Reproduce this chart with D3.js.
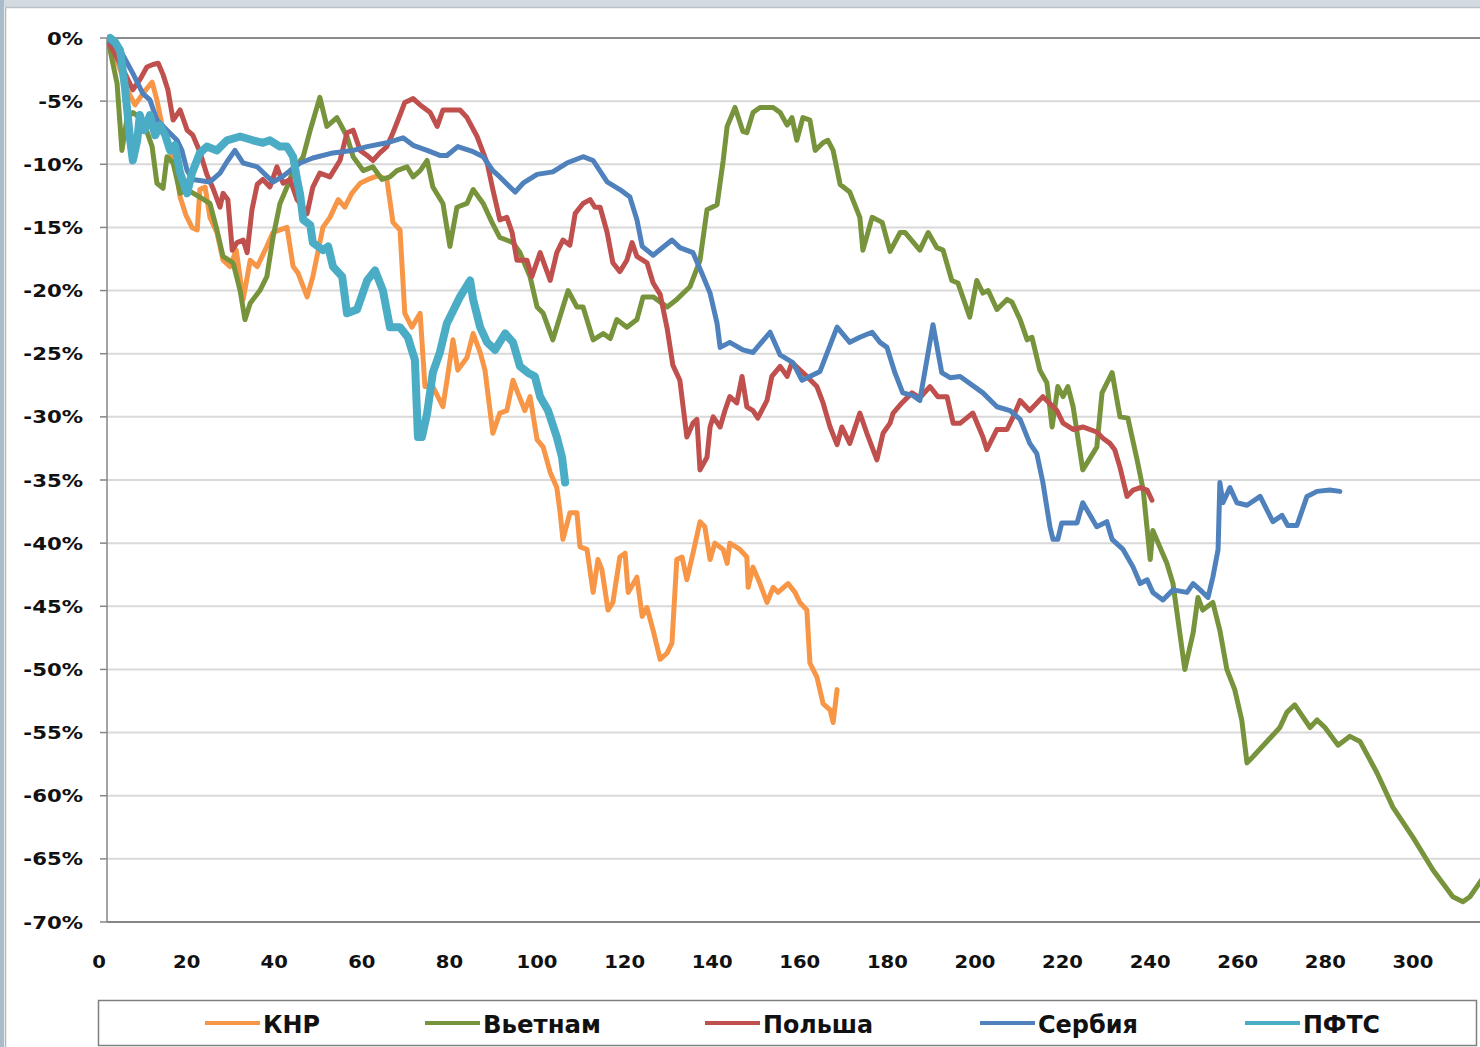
<!DOCTYPE html>
<html><head><meta charset="utf-8">
<script src="https://cdn.jsdelivr.net/npm/d3@7"></script>
<style>body{margin:0;background:#fff}svg{display:block}</style>
</head><body>
<svg id="c" width="1480" height="1047"></svg>
<script>
// ---------- DATA ----------
const seriesNames = ["КНР", "Вьетнам", "Польша", "Сербия", "ПФТС"];
const seriesColors = ["#F79646", "#77933C", "#C0504D", "#4F81BD", "#4BACC6"];
const yTicks = [0, -5, -10, -15, -20, -25, -30, -35, -40, -45, -50, -55, -60, -65, -70];
const xTicks = [0, 20, 40, 60, 80, 100, 120, 140, 160, 180, 200, 220, 240, 260, 280, 300];

// [day, % change]
const knr = [[2.5,0],[3.9,-1.0],[5.5,-2.5],[7.1,-4.1],[8.9,-5.3],[10.5,-4.5],[11.6,-4.0],[12.8,-3.5],[13.9,-4.9],[15.3,-7.3],[16.9,-8.9],[18.3,-10.5],[19.2,-12.6],[20.5,-14.0],[21.9,-15.0],[23.1,-15.2],[23.7,-12.0],[24.9,-11.8],[26.0,-14.2],[27.6,-15.4],[29.0,-17.6],[30.6,-18.1],[32.0,-16.8],[33.6,-20.7],[35.2,-17.6],[36.8,-18.1],[39.0,-16.5],[40.4,-15.4],[42.0,-15.2],[43.6,-15.0],[45.0,-18.1],[46.1,-18.6],[48.2,-20.5],[49.5,-18.9],[51.8,-15.0],[53.4,-14.2],[55.3,-12.8],[56.8,-13.4],[58.4,-12.3],[60.3,-11.5],[62.1,-11.2],[64.4,-10.9],[66.4,-11.2],[67.8,-14.6],[69.4,-15.2],[70.5,-21.8],[72.1,-22.9],[74.0,-21.8],[75.1,-27.6],[76.9,-27.6],[79.2,-29.2],[80.4,-26.5],[81.5,-23.9],[82.6,-26.3],[84.7,-25.3],[86.1,-23.4],[87.7,-24.9],[88.8,-26.3],[90.6,-31.3],[92.2,-29.7],[93.8,-29.5],[95.2,-27.1],[96.3,-28.1],[97.9,-29.5],[99.1,-28.4],[100.7,-31.8],[102.1,-32.4],[103.7,-34.4],[105.2,-35.6],[105.9,-37.4],[106.6,-39.7],[108.2,-37.6],[109.8,-37.6],[110.5,-40.3],[112.1,-40.5],[113.5,-43.9],[114.6,-41.3],[115.5,-42.1],[116.9,-45.3],[118.0,-44.7],[119.6,-41.1],[120.8,-40.8],[121.5,-43.9],[123.5,-42.7],[124.7,-45.8],[125.8,-45.1],[127.2,-46.9],[128.8,-49.2],[130.4,-48.7],[131.5,-47.9],[132.6,-41.3],[133.8,-41.1],[134.9,-42.9],[136.3,-40.8],[137.9,-38.3],[139.0,-38.7],[140.2,-41.3],[141.3,-40.0],[143.2,-40.5],[144.1,-41.6],[144.7,-40.0],[147.0,-40.5],[148.6,-41.1],[148.9,-43.5],[150.0,-41.9],[151.6,-43.2],[153.2,-44.7],[154.6,-43.5],[155.7,-43.9],[158.0,-43.2],[159.6,-43.9],[160.7,-44.7],[162.3,-45.3],[163.0,-49.5],[164.6,-50.6],[166.0,-52.7],[167.6,-53.2],[168.3,-54.2],[169.2,-51.6]];

const vietnam = [[2.5,0],[3.2,-0.95],[4.8,-3.6],[5.9,-8.9],[7.1,-6.3],[8.4,-5.9],[10.7,-6.5],[12.8,-8.6],[13.9,-11.5],[15.3,-11.9],[16.2,-9.4],[17.6,-9.9],[19.2,-12.3],[20.8,-12.0],[23.7,-12.6],[26.0,-13.1],[27.6,-15.2],[29.0,-17.3],[31.3,-17.8],[32.9,-20.0],[34.0,-22.3],[35.2,-21.0],[37.4,-20.0],[39.0,-18.9],[40.4,-15.8],[42.0,-13.1],[43.6,-11.8],[45.0,-10.5],[47.3,-9.4],[48.9,-7.3],[51.1,-4.7],[52.7,-7.0],[55.0,-6.3],[57.3,-7.8],[58.7,-9.4],[61.0,-10.5],[63.2,-10.2],[65.3,-11.2],[67.1,-11.0],[68.7,-10.5],[71.0,-10.2],[72.4,-11.0],[74.0,-10.5],[75.6,-9.7],[76.9,-11.8],[79.2,-13.1],[80.8,-16.5],[82.4,-13.4],[84.7,-13.1],[86.1,-12.0],[88.4,-13.1],[90.4,-14.6],[92.2,-15.8],[95.2,-16.2],[96.8,-17.0],[99.1,-18.9],[100.7,-21.3],[102.1,-21.8],[104.3,-23.9],[106.6,-21.3],[107.8,-20.0],[109.8,-21.3],[111.2,-21.3],[113.5,-23.9],[115.8,-23.4],[117.4,-23.8],[118.9,-22.3],[121.2,-22.9],[123.5,-22.3],[124.9,-20.5],[127.2,-20.5],[130.4,-21.3],[132.6,-20.7],[135.6,-19.7],[137.9,-17.6],[139.5,-13.6],[141.8,-13.2],[143.2,-9.7],[144.1,-7.0],[145.9,-5.5],[147.7,-7.4],[148.6,-7.5],[150.0,-5.9],[151.6,-5.5],[154.6,-5.5],[156.2,-5.9],[157.8,-6.9],[158.9,-6.3],[160.0,-8.1],[161.4,-6.3],[163.0,-6.5],[164.2,-8.9],[166.0,-8.3],[167.1,-8.1],[168.3,-8.9],[169.9,-11.6],[172.1,-12.2],[174.4,-14.2],[175.1,-16.8],[177.2,-14.2],[179.5,-14.6],[181.3,-16.9],[183.6,-15.4],[184.7,-15.4],[188.1,-16.8],[190.0,-15.4],[192.0,-16.6],[193.4,-16.8],[195.4,-19.2],[196.8,-19.4],[199.5,-22.1],[201.1,-19.2],[202.5,-20.2],[203.7,-20.0],[205.7,-21.5],[208.0,-20.7],[209.1,-20.9],[211.0,-22.3],[212.6,-23.9],[213.7,-23.7],[215.5,-26.3],[217.1,-27.3],[218.3,-30.8],[219.6,-27.6],[220.8,-28.4],[221.9,-27.6],[223.1,-29.2],[225.3,-34.2],[228.5,-32.4],[229.7,-28.1],[232.0,-26.5],[233.8,-30.0],[235.6,-30.1],[237.7,-33.4],[239.1,-35.8],[240.7,-41.3],[241.3,-39.0],[242.9,-40.3],[244.5,-41.6],[245.9,-43.2],[248.6,-50.0],[250.5,-47.1],[251.6,-44.3],[252.7,-45.3],[255.0,-44.7],[256.6,-46.9],[258.2,-50.0],[260.0,-51.6],[261.6,-54.0],[262.8,-57.4],[264.2,-56.9],[270.3,-54.6],[271.9,-53.4],[273.7,-52.8],[277.2,-54.6],[278.8,-54.0],[280.6,-54.6],[283.6,-56.0],[286.3,-55.3],[288.6,-55.7],[292.5,-58.2],[296.1,-60.9],[300.7,-63.3],[305.3,-65.9],[309.8,-68.0],[312.1,-68.4],[313.7,-68.0],[315.5,-67.1],[316.5,-66.6]];

const poland = [[2.5,-0.2],[3.9,-1.0],[6.2,-2.5],[8.4,-4.1],[10.0,-3.3],[11.6,-2.3],[13.0,-2.1],[14.2,-2.0],[15.3,-2.9],[16.4,-4.1],[17.6,-6.5],[19.2,-5.7],[20.8,-7.3],[22.1,-7.7],[23.7,-9.0],[25.3,-10.8],[26.7,-11.9],[28.3,-13.4],[29.0,-12.3],[30.1,-12.8],[31.1,-16.8],[32.2,-16.2],[33.6,-16.0],[34.5,-17.0],[35.6,-13.6],[36.8,-11.6],[38.1,-11.2],[39.7,-11.8],[41.3,-10.2],[42.7,-11.5],[44.3,-11.2],[45.9,-12.8],[47.3,-13.4],[48.2,-13.9],[49.5,-11.8],[51.1,-10.7],[53.4,-11.0],[55.7,-9.7],[57.3,-7.5],[58.7,-7.3],[60.3,-8.9],[61.9,-9.3],[63.2,-9.7],[64.8,-9.1],[66.4,-8.6],[67.8,-7.5],[69.4,-6.1],[70.5,-5.1],[72.4,-4.8],[74.0,-5.3],[76.3,-5.9],[77.9,-7.0],[79.2,-5.7],[81.5,-5.7],[83.1,-5.7],[84.7,-6.3],[87.0,-7.8],[89.3,-9.9],[90.6,-12.0],[92.2,-14.4],[93.8,-14.2],[95.0,-15.4],[96.1,-17.6],[98.4,-17.6],[99.5,-18.9],[101.4,-17.0],[103.7,-19.2],[105.2,-17.0],[106.6,-16.0],[108.2,-16.4],[109.4,-13.9],[111.2,-13.1],[112.8,-12.8],[113.9,-13.4],[115.1,-13.4],[116.7,-15.4],[118.0,-17.8],[119.6,-18.5],[121.2,-17.6],[122.4,-16.2],[123.5,-17.3],[125.8,-17.8],[127.2,-19.4],[128.8,-20.3],[130.4,-23.0],[131.7,-25.9],[133.3,-27.1],[134.9,-31.6],[136.3,-30.5],[137.2,-30.2],[137.9,-34.2],[139.5,-33.2],[140.2,-30.8],[140.9,-30.0],[142.5,-30.8],[143.6,-29.5],[144.7,-28.4],[146.3,-28.9],[147.5,-26.8],[148.6,-29.2],[150.0,-29.5],[151.1,-30.1],[153.2,-28.7],[154.3,-26.8],[156.2,-26.0],[157.8,-26.8],[158.9,-25.7],[162.3,-26.8],[164.6,-27.6],[166.0,-28.9],[167.6,-30.8],[169.2,-32.2],[170.3,-30.8],[172.1,-32.1],[174.4,-29.7],[176.0,-31.3],[178.3,-33.4],[179.7,-31.3],[181.3,-30.5],[182.0,-29.7],[184.0,-28.9],[186.3,-28.1],[188.1,-28.5],[190.4,-27.6],[192.2,-28.4],[194.3,-28.4],[195.7,-30.5],[197.3,-30.5],[198.4,-30.2],[200.2,-29.7],[202.5,-31.6],[203.4,-32.6],[205.7,-31.0],[208.0,-31.0],[209.4,-30.0],[211.0,-28.7],[213.2,-29.5],[216.2,-28.4],[219.4,-29.5],[220.8,-30.5],[223.1,-31.0],[225.3,-30.8],[228.5,-31.2],[229.9,-31.7],[231.5,-32.1],[232.6,-32.6],[233.8,-34.0],[235.4,-36.3],[236.8,-35.8],[238.4,-35.6],[240.0,-35.8],[241.1,-36.6]];

const serbia = [[2.5,0],[5.5,-0.95],[8.4,-2.8],[10.7,-4.4],[12.3,-4.9],[13.9,-6.5],[16.2,-7.3],[18.5,-8.1],[19.6,-8.9],[20.8,-10.5],[22.1,-11.2],[26.0,-11.4],[28.3,-10.7],[29.9,-9.8],[31.7,-8.9],[33.6,-9.9],[36.8,-10.2],[40.4,-11.4],[42.5,-11.0],[44.3,-10.5],[46.6,-9.9],[49.5,-9.5],[54.1,-9.1],[58.7,-8.9],[61.9,-8.6],[66.4,-8.3],[70.1,-7.9],[72.4,-8.5],[75.6,-8.9],[78.5,-9.3],[80.1,-9.3],[82.6,-8.6],[86.1,-9.0],[88.4,-9.4],[90.6,-10.5],[92.2,-11.0],[94.5,-11.8],[95.7,-12.2],[97.5,-11.5],[100.7,-10.8],[104.3,-10.6],[107.5,-9.9],[111.2,-9.4],[113.5,-9.7],[116.7,-11.4],[119.6,-12.0],[121.9,-12.6],[123.5,-14.4],[124.7,-16.5],[127.2,-17.2],[131.5,-16.0],[133.3,-16.6],[136.3,-17.0],[138.3,-18.6],[140.2,-20.2],[141.8,-22.6],[142.5,-24.5],[144.7,-24.1],[147.7,-24.7],[150.0,-24.9],[153.9,-23.3],[156.2,-25.1],[159.1,-25.7],[161.2,-27.1],[165.3,-26.4],[169.2,-22.9],[172.1,-24.1],[174.4,-23.7],[177.2,-23.3],[179.0,-24.1],[180.6,-24.5],[182.4,-26.5],[184.2,-28.1],[186.5,-28.3],[188.1,-28.7],[191.1,-22.7],[193.1,-26.5],[195.0,-26.9],[197.3,-26.8],[202.5,-28.1],[205.7,-29.2],[208.7,-29.5],[211.0,-30.2],[213.2,-32.1],[214.8,-32.9],[216.2,-35.2],[217.8,-38.7],[218.5,-39.7],[219.6,-39.7],[220.5,-38.4],[224.0,-38.4],[225.3,-36.8],[228.5,-38.7],[230.8,-38.3],[232.0,-39.7],[234.5,-40.5],[236.8,-41.9],[238.4,-43.2],[240.0,-42.9],[241.3,-43.9],[243.6,-44.5],[245.9,-43.7],[249.1,-43.9],[250.5,-43.2],[252.1,-43.7],[253.9,-44.3],[255.0,-42.7],[256.2,-40.5],[256.6,-35.2],[257.3,-36.8],[258.9,-35.6],[260.5,-36.8],[262.8,-37.0],[265.8,-36.3],[268.7,-38.3],[270.8,-37.8],[272.1,-38.6],[274.2,-38.6],[276.5,-36.3],[278.8,-35.9],[281.7,-35.8],[284.0,-35.9]];

const pfts = [[3.2,0],[4.3,-0.3],[5.5,-1.0],[6.6,-3.9],[7.8,-8.1],[8.4,-9.7],[9.4,-8.1],[10.0,-6.1],[11.0,-7.3],[11.6,-6.9],[12.3,-6.1],[13.5,-7.7],[14.6,-6.9],[15.8,-7.7],[16.9,-8.9],[18.0,-8.5],[19.2,-10.7],[20.8,-12.3],[21.9,-10.7],[23.7,-9.1],[25.3,-8.6],[27.6,-8.9],[29.9,-8.1],[32.9,-7.8],[35.8,-8.1],[38.1,-8.3],[39.7,-8.1],[42.0,-8.6],[43.6,-8.6],[45.0,-9.4],[45.9,-11.2],[46.6,-12.4],[47.3,-14.4],[48.9,-14.8],[49.5,-16.2],[51.8,-16.8],[53.0,-16.5],[54.1,-18.1],[56.2,-18.9],[57.3,-21.8],[59.6,-21.5],[61.9,-19.2],[63.7,-18.4],[65.5,-20.0],[67.1,-22.9],[69.4,-22.9],[71.2,-23.7],[72.8,-25.5],[73.5,-31.6],[74.4,-31.6],[75.6,-29.7],[76.9,-26.5],[78.5,-24.9],[80.1,-22.6],[83.1,-20.5],[85.4,-19.2],[86.1,-20.7],[87.7,-22.9],[89.3,-24.1],[91.1,-24.7],[93.4,-23.4],[95.2,-24.1],[96.8,-26.0],[98.6,-26.5],[100.2,-26.8],[101.4,-28.4],[103.2,-29.5],[105.2,-31.6],[106.4,-33.2],[107.1,-35.2]];

const seriesData = [knr, vietnam, poland, serbia, pfts];
const seriesWidths = [5, 5, 5, 5, 8];

// ---------- CHART ----------
const svg = d3.select("#c");
const W = 1480, H = 1047;
const x = d3.scaleLinear().domain([2.5, 316]).range([107, 1480]);
const y = d3.scaleLinear().domain([-70, 0]).range([922, 38]);

// frame
svg.append("rect").attr("width", W).attr("height", H).attr("fill", "#fff");
svg.append("rect").attr("width", W).attr("height", 7).attr("fill", "#d3dbe1");
svg.append("rect").attr("width", 4).attr("height", H).attr("fill", "#a9bccb");
svg.append("line").attr("x1", 5.5).attr("x2", 5.5).attr("y1", 7).attr("y2", H).attr("stroke", "#b5b5b5").attr("stroke-width", 1.5);
svg.append("line").attr("x1", 5).attr("x2", W).attr("y1", 7.5).attr("y2", 7.5).attr("stroke", "#bcc4ca").attr("stroke-width", 1.5);

const plotL = x(2.5), plotR = 1480;

// gridlines
svg.append("g").selectAll("line").data(yTicks.filter(v => v !== 0 && v !== -70)).join("line")
  .attr("x1", plotL).attr("x2", plotR)
  .attr("y1", d => y(d)).attr("y2", d => y(d))
  .attr("stroke", "#d9d9d9").attr("stroke-width", 2);

// top border (0%)
svg.append("line").attr("x1", plotL).attr("x2", plotR).attr("y1", y(0)).attr("y2", y(0))
  .attr("stroke", "#8c8c8c").attr("stroke-width", 2);

// y tick marks
svg.append("g").selectAll("line").data(yTicks).join("line")
  .attr("x1", plotL - 7).attr("x2", plotL)
  .attr("y1", d => y(d)).attr("y2", d => y(d))
  .attr("stroke", "#868686").attr("stroke-width", 1.5);

// axis lines
svg.append("line").attr("x1", plotL).attr("x2", plotL).attr("y1", y(0)).attr("y2", y(-70))
  .attr("stroke", "#868686").attr("stroke-width", 1.5);
svg.append("line").attr("x1", plotL).attr("x2", plotR).attr("y1", y(-70)).attr("y2", y(-70))
  .attr("stroke", "#868686").attr("stroke-width", 2);

// y labels
svg.append("g").selectAll("text").data(yTicks).join("text")
  .attr("transform", d => `translate(83,${y(d) + 6.5}) scale(1.18,1)`)
  .attr("text-anchor", "end")
  .attr("font-family", "'DejaVu Sans', Verdana, sans-serif")
  .attr("font-weight", "bold").attr("font-size", 18).attr("fill", "#111")
  .text(d => d + "%");

// x labels
svg.append("g").selectAll("text").data(xTicks).join("text")
  .attr("transform", d => `translate(${x(d) + 3},968) scale(1.09,1)`)
  .attr("text-anchor", "middle")
  .attr("font-family", "'DejaVu Sans', Verdana, sans-serif")
  .attr("font-weight", "bold").attr("font-size", 18).attr("fill", "#111")
  .text(d => d);

// lines
svg.append("clipPath").attr("id", "clip").append("rect")
  .attr("x", plotL).attr("y", 0).attr("width", plotR - plotL).attr("height", 940);
const line = d3.line().x(d => x(d[0])).y(d => y(d[1]));
svg.append("g").attr("clip-path", "url(#clip)").selectAll("path").data(seriesData).join("path")
  .attr("d", line)
  .attr("fill", "none")
  .attr("stroke", (d, i) => seriesColors[i])
  .attr("stroke-width", (d, i) => seriesWidths[i])
  .attr("stroke-linejoin", "round").attr("stroke-linecap", "round");

// legend
svg.append("rect").attr("x", 98.5).attr("y", 1000.5).attr("width", 1378).attr("height", 45)
  .attr("fill", "#fff").attr("stroke", "#7f7f7f").attr("stroke-width", 1.5);
const legX = [205, 425, 705, 980, 1245];
const legW = [57, 118, 110, 100, 77];
const lg = svg.append("g").selectAll("g").data(seriesNames).join("g");
lg.append("line")
  .attr("x1", (d, i) => legX[i]).attr("x2", (d, i) => legX[i] + 55)
  .attr("y1", 1023).attr("y2", 1023)
  .attr("stroke", (d, i) => seriesColors[i]).attr("stroke-width", 4);
lg.append("text")
  .attr("x", (d, i) => legX[i] + 58).attr("y", 1033)
  .attr("font-family", "'DejaVu Sans Condensed', 'DejaVu Sans', sans-serif")
  .attr("font-weight", "bold").attr("font-size", 25).attr("fill", "#111")
  .attr("textLength", (d, i) => legW[i]).attr("lengthAdjust", "spacingAndGlyphs")
  .text(d => d);
</script>
</body></html>
